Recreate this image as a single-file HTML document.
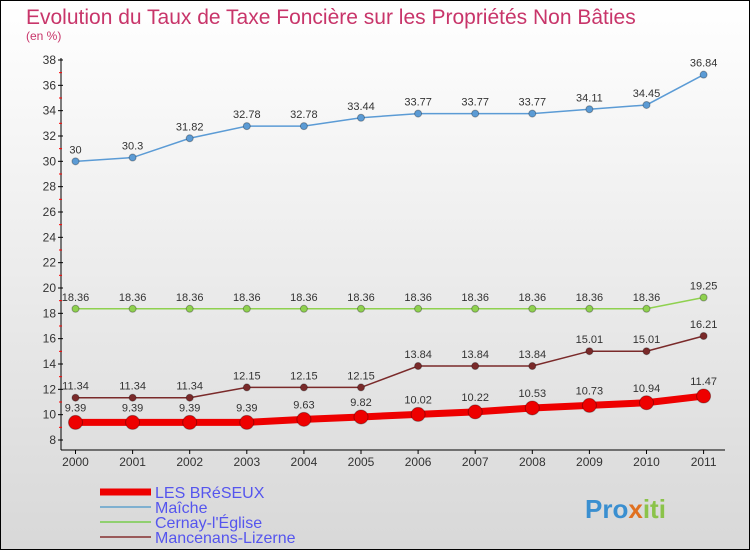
<!DOCTYPE html>
<html><head><meta charset="utf-8"><style>
body{margin:0}
#c{width:750px;height:550px;position:relative;overflow:hidden}
text{font-family:"Liberation Sans",sans-serif}
</style></head><body>
<div id="c">
<svg id="s" width="750" height="550" xmlns="http://www.w3.org/2000/svg">
<defs><linearGradient id="bg" x1="0" y1="0" x2="0" y2="1"><stop offset="0" stop-color="#ffffff"/><stop offset="1" stop-color="#d8d8d8"/></linearGradient></defs>
<rect x="0.5" y="0.5" width="749" height="549" fill="url(#bg)" stroke="#000"/>
<text x="26" y="24" font-size="21" fill="#c8356a">Evolution du Taux de Taxe Foncière sur les Propriétés Non Bâties</text>
<text x="26" y="40" font-size="12" fill="#c8356a">(en %)</text>
<g id="axes"></g><g id="series"></g><g id="legend"></g>
<text x="585" y="518" font-size="26" font-weight="bold" fill="#3a8fd0">Pro<tspan fill="#e07020">x</tspan><tspan fill="#8bc34a">iti</tspan></text>
</svg></div>
<script>
const years=["2000","2001","2002","2003","2004","2005","2006","2007","2008","2009","2010","2011"];
const yTicks=[8,10,12,14,16,18,20,22,24,26,28,30,32,34,36,38];
const breseux=[9.39,9.39,9.39,9.39,9.63,9.82,10.02,10.22,10.53,10.73,10.94,11.47];
const maiche=[30,30.3,31.82,32.78,32.78,33.44,33.77,33.77,33.77,34.11,34.45,36.84];
const cernay=[18.36,18.36,18.36,18.36,18.36,18.36,18.36,18.36,18.36,18.36,18.36,19.25];
const mancenans=[11.34,11.34,11.34,12.15,12.15,12.15,13.84,13.84,13.84,15.01,15.01,16.21];
const NS="http://www.w3.org/2000/svg";
const X=i=>75.5+i*57.1, Y=v=>440-(v-8)*12.667;
function mk(t,a,p){const e=document.createElementNS(NS,t);for(const k in a)e.setAttribute(k,a[k]);p.appendChild(e);return e;}
const ax=document.getElementById('axes');
let yl=mk('line',{x1:61,y1:58,x2:61,y2:450,stroke:'#000'},ax);


let xl=mk('line',{x1:61,y1:450,x2:725,y2:450,stroke:'#000'},ax);


yTicks.forEach(v=>{mk('line',{x1:58,y1:Y(v),x2:63,y2:Y(v),stroke:'#000'},ax);
 if(v<38)mk('line',{x1:59,y1:Y(v+1),x2:62,y2:Y(v+1),stroke:'red'},ax);
 const t=mk('text',{x:56,y:Y(v)+4,'font-size':12,'text-anchor':'end',fill:'#333'},ax);t.textContent=v;
 
 });
years.forEach((y,i)=>{mk('line',{x1:X(i),y1:450,x2:X(i),y2:454,stroke:'#000'},ax);
 const t=mk('text',{x:X(i),y:466,'font-size':12,'text-anchor':'middle',fill:'#333'},ax);t.textContent=y;
 
 });
const sg=document.getElementById('series');
function series(d,col,w,r,name){
 const g=mk('g',{},sg);
 
 
 mk('polyline',{points:d.map((v,i)=>X(i)+','+Y(v)).join(' '),fill:'none',stroke:col,'stroke-width':w},g);
 d.forEach((v,i)=>{const c=mk('circle',{cx:X(i),cy:Y(v),r:r,fill:col,stroke:'rgba(0,0,0,0.3)'},g);
  
  
  const t=mk('text',{x:X(i),y:Y(v)-8-(r>5?3:0),'font-size':11,'text-anchor':'middle',fill:'#333'},g);t.textContent=String(v);
  
  });
}
series(maiche,'#5b9bd5',1.5,3.5,'series-maiche');
series(cernay,'#8fd14f',1.5,3.5,'series-cernay');
series(mancenans,'#7a2a2a',1.5,3.5,'series-mancenans');
series(breseux,'#ee0000',7,7,'series-les-breseux');
const lg=document.getElementById('legend');
[["LES BRéSEUX","#ee0000",7],["Maîche","#7fb0d0",2],["Cernay-l'Église","#90d070",2],["Mancenans-Lizerne","#9a5a5a",2]].forEach((e,i)=>{
 const y=492+i*15;
 const l=mk('line',{x1:100,y1:y,x2:151,y2:y,stroke:e[1],'stroke-width':e[2]},lg);
 
 
 const t=mk('text',{x:155,y:y+6,'font-size':16,fill:'#5555ee'},lg);t.textContent=e[0];
 
 
});
</script></body></html>
